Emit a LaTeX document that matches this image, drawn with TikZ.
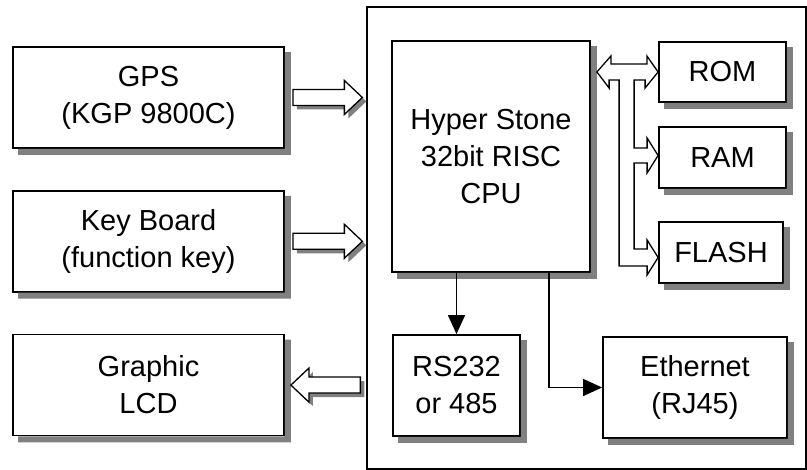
\documentclass[tikz,border=0pt]{standalone}
\usepackage{fontspec}
\setmainfont{Liberation Sans}
\usepackage{tikz}
\usetikzlibrary{shapes.geometric, arrows.meta, positioning, calc}
\tikzset{fat off/.store in=\fatoff, fat off=0pt}
\tikzstyle{arrow} = [line width=1.3pt, -{Triangle[length=19pt,width=17pt]}]
\tikzstyle{block} = [rectangle, draw=black, line width=1.8pt, fill=white, align=center, inner sep=2pt, font=\fontsize{29}{37}\selectfont]
\tikzstyle{shadowfill} = [fill=black!50, draw=none]
\tikzstyle{fatshape} = [line join=miter,
  to path={let \p1=(\tikztostart), \p2=(\tikztotarget), \p3=($(\tikztotarget)!18pt!(\tikztostart)$) in
    (\x1+\fatoff,\y1+8pt-\fatoff) -- (\x3+\fatoff,\y1+8pt-\fatoff) -- (\x3+\fatoff,\y1+17pt-\fatoff) -- (\x2+\fatoff,\y1-\fatoff)
    -- (\x3+\fatoff,\y1-17pt-\fatoff) -- (\x3+\fatoff,\y1-8pt-\fatoff) -- (\x1+\fatoff,\y1-8pt-\fatoff) -- cycle}]
\tikzstyle{fat} = [fatshape, draw=black, line width=1.3pt, fill=white]
\tikzstyle{fatshadow} = [fatshape, shadowfill, fat off=4pt]
\tikzstyle{bus} = [draw=black, line width=1.3pt, fill=white, line join=miter]

\begin{document}
\begin{tikzpicture}[x=1pt, y=1pt, node distance=41pt]
\useasboundingbox (0,0) rectangle (807,470);

% Board
\node (board) [rectangle, draw=black, line width=1.3pt, minimum width=439pt, minimum height=462pt] at (586.5,232) {};

% Outside units
\node (gps) [block, minimum width=271pt, minimum height=101pt] at (148.5,372.5) {GPS\\(KGP 9800C)};
\node (kbd) [block, minimum width=271pt, minimum height=101pt, below=of gps] {Key Board\\(function key)};
\node (lcd) [block, minimum width=271pt, minimum height=101pt, below=of kbd] {Graphic\\LCD};

% Board units
\node (cpu) [block, minimum width=198pt, minimum height=231pt] at (491,313.5) {Hyper Stone\\32bit RISC\\CPU};
\node (rom) [block, minimum width=127pt, minimum height=60pt] at (722.5,398) {ROM};
\node (ram) [block, minimum width=127pt, minimum height=61pt] at (722.5,312.5) {RAM};
\node (flash) [block, minimum width=124pt, minimum height=61pt] at (721,217.5) {FLASH};
\node (rs) [block, minimum width=127pt, minimum height=101pt] at (456.5,84.5) {RS232\\or 485};
\node (eth) [block, minimum width=184pt, minimum height=101pt] at (695,82.5) {Ethernet\\(RJ45)};

% Shadows
\foreach \b in {gps,kbd,lcd,cpu,rom,ram,flash,rs,eth}
  \fill [shadowfill] let \p1=(\b.south west), \p2=(\b.north east) in
    (\x1+6pt,\y1) -- (\x1+6pt,\y1-6pt) -- (\x2+6pt,\y1-6pt) -- (\x2+6pt,\y2-6pt) -- (\x2,\y2-6pt) -- (\x2,\y1) -- cycle;

% Hollow arrows
\path [fatshadow] ([xshift=8pt]gps.east) to ([xshift=-4pt]gps.east -| board.west);
\path [fatshadow] ([xshift=8pt]kbd.east) to ([xshift=-4pt]kbd.east -| board.west);
\path [fatshadow] ([xshift=-6pt]lcd.east -| board.west) to ([xshift=6pt]lcd.east);
\draw [fat] ([xshift=8pt]gps.east) to ([xshift=-4pt]gps.east -| board.west);
\draw [fat] ([xshift=8pt]kbd.east) to ([xshift=-4pt]kbd.east -| board.west);
\draw [fat] ([xshift=-6pt]lcd.east -| board.west) to ([xshift=6pt]lcd.east);

% Memory bus
\draw [bus] ($(cpu.east |- rom.west)+(6,0)$) -- ++(14,16) -- ++(0,-8) -- ++(36,0) -- ++(0,8) -- (rom.west)
  -- ++(-13,-16) -- ++(0,8) -- ++(-11,0) -- ++(0,-68) -- ++(13,0) -- ++(0,10) -- ($(ram.west)+(0,2)$)
  -- ++(-11,-17.5) -- ++(0,10) -- ++(-13,0) -- ++(0,-86) -- ++(13,0) -- ++(0,9) -- ($(flash.west)+(0,-5)$)
  -- ++(-11,-17.5) -- ++(0,9) -- ++(-28,0) -- ++(0,186) -- ++(-10,0) -- ++(0,-8) -- cycle;

% Connections
\draw [arrow] (cpu.south -| rs.north) -- (rs.north);
\draw [arrow] ([xshift=-42pt]cpu.south east) |- (eth.west);

\end{tikzpicture}
\end{document}
